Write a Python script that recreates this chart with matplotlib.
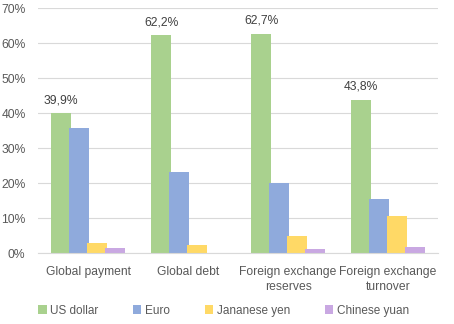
import numpy as np
import matplotlib.pyplot as plt
from matplotlib.ticker import PercentFormatter

# Data (share, %)
categories = ['Global payment', 'Global debt', 'Foreign exchange\nreserves', 'Foreign exchange\nturnover']
series_names = ['US dollar', 'Euro', 'Jananese yen', 'Chinese yuan']
us_dollar = [39.9, 62.2, 62.7, 43.8]
euro = [35.8, 23.1, 20.0, 15.4]
yen = [2.9, 2.3, 4.9, 10.6]
yuan = [1.5, 0.0, 1.1, 1.7]
colors = ['#A9D18E', '#8FAADC', '#FFD966', '#C9A8E2']

text_col = '#595959'
plt.rcParams['font.family'] = ['Liberation Sans', 'DejaVu Sans']

fig = plt.figure(figsize=(4.54, 3.24), dpi=100)
ax = fig.add_axes([0.0837, 0.219, 0.8815, 0.756])

x = np.arange(len(categories))
step = 0.18
width = 0.2
all_series = [us_dollar, euro, yen, yuan]
for i, (vals, name, col) in enumerate(zip(all_series, series_names, colors)):
    offs = (i - 1.5) * step
    ax.bar(x + offs, np.array(vals) / 100, width=width, color=col, label=name, zorder=2)

# labels on the US dollar bars
for xi, v in zip(x, us_dollar):
    ax.annotate(f'{v:.1f}%'.replace('.', ','), (xi - 1.5 * step, v / 100),
                xytext=(0, 5), textcoords='offset points', ha='center', va='bottom',
                fontsize=8.7, color='#404040')

ax.set_xlim(-0.5, 3.5)
ax.set_ylim(0, 0.7)
ax.yaxis.set_major_formatter(PercentFormatter(1.0, decimals=0))
ax.set_yticks(np.arange(0, 0.71, 0.1))
ax.grid(axis='y', color='#D9D9D9', linewidth=0.8, zorder=0)
ax.set_xticks(x)
ax.set_xticklabels(categories, linespacing=1.35)
ax.tick_params(length=0, labelsize=8.7, colors=text_col)
ax.tick_params(axis='x', pad=9)
ax.tick_params(axis='y', pad=9)
for s in ['top', 'right', 'left']:
    ax.spines[s].set_visible(False)
ax.spines['bottom'].set_color('#D9D9D9')

fig.legend(loc='lower left', bbox_to_anchor=(0.061, -0.01), ncol=4, frameon=False,
           fontsize=8.5, handlelength=0.7, handleheight=0.7, handletextpad=0.3,
           columnspacing=2.95, labelcolor=text_col)

fig.savefig('out.png', dpi=100)
